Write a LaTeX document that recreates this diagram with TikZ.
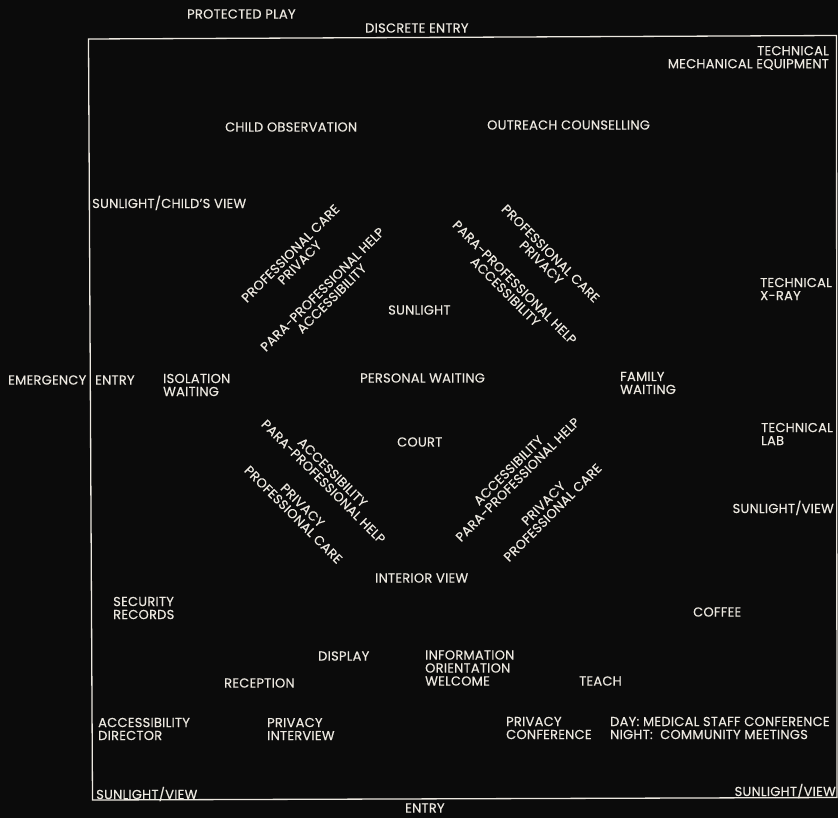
\documentclass[tikz,border=0pt]{standalone}
\usepackage{fontspec}
\setmainfont{Poppins}[FakeBold=0.35, LetterSpace=2]
\definecolor{bg}{HTML}{0B0B0B}
\definecolor{ink}{HTML}{ECE8E0}
\tikzset{
  lbl/.style={font=\fontsize{13}{13}\selectfont, text=ink, inner sep=0pt, align=left, anchor=west},
  rlbl/.style={font=\fontsize{13}{13}\selectfont, text=ink, inner sep=0pt, align=right, anchor=east},
  dlbl/.style={font=\fontsize{13}{13}\selectfont, text=ink, inner sep=0pt, align=center, anchor=center},
  frame/.style={draw=ink, line width=1.3pt}
}
\begin{document}
\begin{tikzpicture}[x=1pt,y=-1pt]
\fill[bg] (0,0) rectangle (838,818);
\useasboundingbox (0,0) rectangle (838,818);
\coordinate (c1) at (88.5,39);
\coordinate (c2) at (836.5,35.5);
\coordinate (c3) at (837,797.5);
\coordinate (c4) at (92.5,800);
\draw[frame] (c1) -- (c2) -- (c3) -- (c4) -- cycle;
% outside labels
\node[lbl] (pplay) at (187,14) {PROTECTED PLAY};
\node[lbl] (dentry) at (365,28) {DISCRETE ENTRY};
\node[lbl] (emerg) at (8,380) {EMERGENCY};
\node[lbl] (eentry) at (95,380) {ENTRY};
\node[lbl] (bentry) at (405,808) {ENTRY};
% inside labels
\node[rlbl] (tech1) at (829,58) {TECHNICAL\\MECHANICAL EQUIPMENT};
\node[lbl] (child) at (225,127) {CHILD OBSERVATION};
\node[lbl] (outreach) at (487,125) {OUTREACH COUNSELLING};
\node[lbl] (sunchild) at (92,203) {SUNLIGHT/CHILD'S VIEW};
\node[lbl] (sunl) at (388,310) {SUNLIGHT};
\node[lbl] (pwait) at (360,378) {PERSONAL WAITING};
\node[lbl] (iso) at (163,385) {ISOLATION\\WAITING};
\node[lbl] (fam) at (620,383) {FAMILY\\WAITING};
\node[lbl] (xray) at (760,289) {TECHNICAL\\X-RAY};
\node[lbl] (lab) at (761,434) {TECHNICAL\\LAB};
\node[rlbl] (sunvr) at (834,508) {SUNLIGHT/VIEW};
\node[lbl] (court) at (397,442) {COURT};
\node[lbl] (intv) at (375,578) {INTERIOR VIEW};
\node[lbl] (sec) at (113,608) {SECURITY\\RECORDS};
\node[lbl] (disp) at (318,656) {DISPLAY};
\node[lbl] (recep) at (224,683) {RECEPTION};
\node[lbl] (accdir) at (98,729) {ACCESSIBILITY\\DIRECTOR};
\node[lbl] (privint) at (267,729) {PRIVACY\\INTERVIEW};
\node[lbl] (sunvbl) at (96,794) {SUNLIGHT/VIEW};
\node[lbl] (info) at (425,668) {INFORMATION\\ORIENTATION\\WELCOME};
\node[lbl] (teach) at (579,681) {TEACH};
\node[lbl] (coffee) at (693,612) {COFFEE};
\node[lbl] (privconf) at (506,728) {PRIVACY\\CONFERENCE};
\node[lbl] (daynight) at (610,728) {DAY: MEDICAL STAFF CONFERENCE\\NIGHT:\ \ COMMUNITY MEETINGS};
\node[rlbl] (sunvbr) at (836,791) {SUNLIGHT/VIEW};
% diagonal labels
\node[dlbl, rotate=45] (tl1) at (295,258) {PROFESSIONAL CARE\\PRIVACY};
\node[dlbl, rotate=45] (tl2) at (327,294) {PARA-PROFESSIONAL HELP\\ACCESSIBILITY};
\node[dlbl, rotate=-45] (tr1) at (546,258) {PROFESSIONAL CARE\\PRIVACY};
\node[dlbl, rotate=-45] (tr2) at (510,287) {PARA-PROFESSIONAL HELP\\ACCESSIBILITY};
\node[dlbl, rotate=-45] (bl1) at (328,477) {ACCESSIBILITY\\PARA-PROFESSIONAL HELP};
\node[dlbl, rotate=-45] (bl2) at (298,510) {PRIVACY\\PROFESSIONAL CARE};
\node[dlbl, rotate=45] (br1) at (513,475) {ACCESSIBILITY\\PARA-PROFESSIONAL HELP};
\node[dlbl, rotate=45] (br2) at (548,508) {PRIVACY\\PROFESSIONAL CARE};
\end{tikzpicture}
\end{document}
